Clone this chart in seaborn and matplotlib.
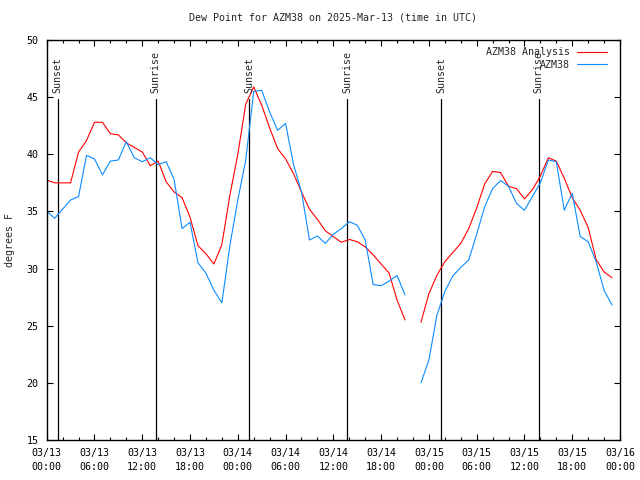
import matplotlib
matplotlib.use('Agg')
import matplotlib.pyplot as plt
from matplotlib.ticker import MultipleLocator
import numpy as np
import pandas as pd
import seaborn as sns

# hours since 2025-03-13 00:00 UTC
hours = list(range(72))

analysis = [37.75, 37.5, 37.5, 37.5, 40.2, 41.2, 42.8, 42.8, 41.8, 41.7,
            41.0, 40.6, 40.2, 39.0, 39.4, 37.6, 36.7, 36.2, 34.5, 32.0,
            31.3, 30.4, 32.1, 36.4, 40.0, 44.4, 45.9, 44.3, 42.3, 40.5,
            39.6, 38.3, 36.7, 35.2, 34.3, 33.3, 32.8, 32.3, 32.55, 32.35,
            31.9, 31.2, 30.4, 29.6, 27.25, 25.5, np.nan, 25.3, 27.8, 29.4,
            30.6, 31.4, 32.2, 33.5, 35.3, 37.4, 38.5, 38.4, 37.2, 37.0,
            36.1, 36.9, 38.1, 39.7, 39.4, 37.9, 36.2, 35.1, 33.6, 30.8,
            29.7, 29.2]

observed = [35.0, 34.4, 35.2, 36.0, 36.3, 39.9, 39.6, 38.2, 39.4, 39.5,
            41.1, 39.7, 39.35, 39.7, 39.1, 39.35, 37.8, 33.5, 34.05, 30.5,
            29.6, 28.1, 27.0, 32.0, 36.0, 39.5, 45.5, 45.6, 43.7, 42.1,
            42.7, 39.1, 36.7, 32.5, 32.85, 32.2, 33.0, 33.5, 34.1, 33.8,
            32.5, 28.6, 28.5, 28.9, 29.4, 27.7, np.nan, 20.0, 22.0, 25.9,
            28.0, 29.35, 30.1, 30.75, 33.0, 35.4, 37.0, 37.7, 37.2, 35.7,
            35.1, 36.3, 37.5, 39.5, 39.35, 35.1, 36.6, 32.8, 32.35, 30.6,
            28.1, 26.8]

sun_hours = [1.37, 13.7, 25.45, 37.7, 49.55, 61.8]
sun_labels = ['Sunset', 'Sunrise', 'Sunset', 'Sunrise', 'Sunset', 'Sunrise']

tick_labels = ['03/13\n00:00', '03/13\n06:00', '03/13\n12:00', '03/13\n18:00',
               '03/14\n00:00', '03/14\n06:00', '03/14\n12:00', '03/14\n18:00',
               '03/15\n00:00', '03/15\n06:00', '03/15\n12:00', '03/15\n18:00',
               '03/16\n00:00']

series_names = ['AZM38 Analysis', 'AZM38']
colors = {'AZM38 Analysis': '#ff0000', 'AZM38': '#0a8cff'}

frames = []
for name, vals in zip(series_names, [analysis, observed]):
    part = pd.DataFrame({'hour': hours, 'dewpoint': vals, 'series': name})
    part['seg'] = (part['hour'] > 46).astype(int)
    frames.append(part)
df = pd.concat(frames).dropna()

sns.set_style('ticks')
plt.rcParams['font.family'] = ['DejaVu Sans Mono']
plt.rcParams['font.size'] = 7.2

fig = plt.figure(figsize=(6.4, 4.8), dpi=100)
ax = fig.add_axes([46.7 / 640, 40 / 480, (620 - 46.7) / 640, 400 / 480])

for h, lab in zip(sun_hours, sun_labels):
    ax.plot([h, h], [15, 44.85], color='black', lw=0.9, zorder=1)
    ax.text(h, 45.4, lab, rotation=90, ha='center', va='bottom', fontsize=7.2)

sns.lineplot(data=df, x='hour', y='dewpoint', hue='series', units='seg',
             estimator=None, hue_order=series_names, palette=colors,
             linewidth=0.8, ax=ax, legend=True)

ax.set_xlim(0, 72)
ax.set_ylim(15, 50)
ax.set_xticks(np.arange(0, 73, 6))
ax.set_xticklabels(tick_labels, linespacing=1.5)
ax.xaxis.set_minor_locator(MultipleLocator(2))
ax.yaxis.set_major_locator(MultipleLocator(5))
ax.tick_params(axis='both', which='both', direction='in', top=True, right=True,
               colors='black', labelsize=7.2)
ax.tick_params(axis='both', which='major', length=4, width=0.8)
ax.tick_params(axis='x', which='minor', length=2, width=0.8)
ax.tick_params(axis='x', which='major', pad=6)
ax.tick_params(axis='y', which='major', pad=6)
for s in ax.spines.values():
    s.set_visible(True)
    s.set_color('black')
    s.set_linewidth(1.0)

ax.set_xlabel('')
ax.set_ylabel('degrees F', fontsize=7.2, labelpad=8)
ax.set_title('Dew Point for AZM38 on 2025-Mar-13 (time in UTC)', fontsize=7.2, pad=14)

handles, labels = ax.get_legend_handles_labels()
ax.legend(handles, labels, loc='upper right', bbox_to_anchor=(612 / 640, 1 - 42 / 480),
          bbox_transform=fig.transFigure, frameon=False, markerfirst=False,
          handlelength=3.0, handletextpad=0.7, labelspacing=0.25, borderpad=0,
          fontsize=7.2)

fig.savefig('out.png', dpi=100)
